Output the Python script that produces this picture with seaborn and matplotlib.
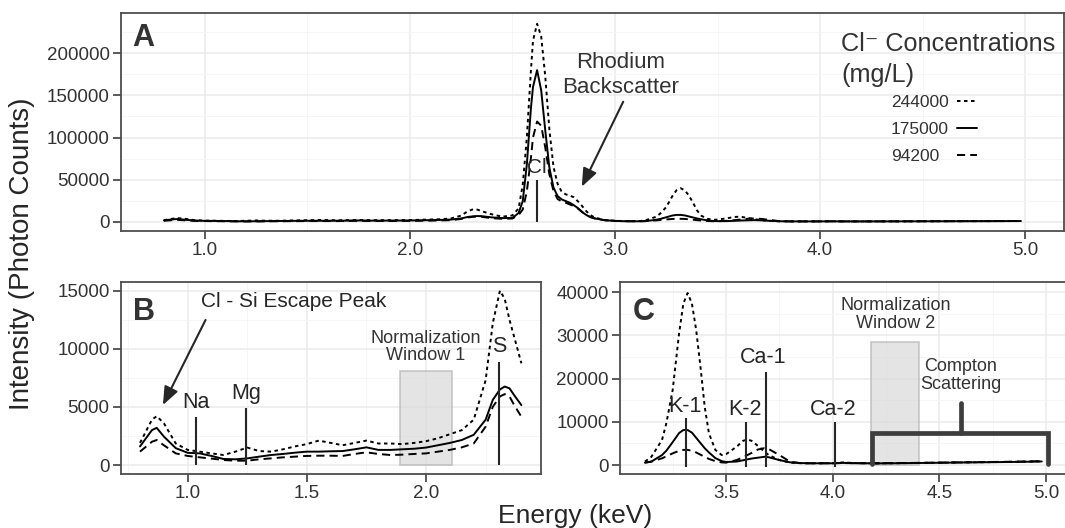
import numpy as np
import pandas as pd
import matplotlib
matplotlib.use("Agg")
import matplotlib.pyplot as plt
from matplotlib.patches import Rectangle
from matplotlib.ticker import FormatStrFormatter
import seaborn as sns

# --- Spectrum readings (energy in keV, intensity in photon counts) ---
energy = [
    0.80, 0.85, 0.87, 0.90, 0.95, 1.00, 1.05, 1.10, 1.15, 1.20, 1.25, 1.30,
    1.35, 1.40, 1.45, 1.50, 1.55, 1.60, 1.65, 1.70, 1.75, 1.80, 1.85, 1.90,
    1.95, 2.00, 2.05, 2.10, 2.15, 2.20, 2.25, 2.28, 2.31, 2.33, 2.35, 2.37,
    2.40,
    2.45, 2.50, 2.53, 2.55, 2.57, 2.59, 2.60, 2.62, 2.64, 2.66, 2.68, 2.70,
    2.72, 2.74, 2.76, 2.78, 2.80, 2.82, 2.84, 2.86, 2.88, 2.90, 2.95, 3.00,
    3.05,
    3.12, 3.15, 3.20, 3.22, 3.25, 3.28, 3.30, 3.32, 3.34, 3.36, 3.38, 3.40,
    3.42, 3.45, 3.48, 3.50, 3.55, 3.58, 3.60, 3.62, 3.65, 3.68, 3.70, 3.75,
    3.80, 3.85, 3.90, 4.00, 4.05, 4.10, 4.20, 4.30, 4.40, 4.50, 4.60, 4.70,
    4.80, 4.90, 4.98,
]

counts_244000 = [
    1900, 3900, 4200, 3600, 1850, 1300, 1150, 1000, 860, 1150, 1500, 1200,
    1150, 1350, 1600, 1800, 2100, 1900, 1700, 1900, 2100, 1850, 1850, 1800,
    1900, 2050, 2300, 2650, 3000, 3900, 7300, 12200, 15000, 14300, 12500, 11000,
    8750,
    6000, 7500, 16000, 44000, 100000, 180000, 215000, 235000, 220000, 172000, 109000, 65000,
    45000, 35500, 32500, 31000, 29000, 24000, 18500, 12500, 8000, 5000, 2000, 1200,
    700,
    800, 1900, 5800, 9600, 17400, 30500, 37400, 39800, 37400, 31300, 22800, 13500,
    7300, 3500, 2300, 2500, 4250, 5600, 5900, 5600, 4400, 3100, 2300, 1150,
    550, 420, 400, 420, 600, 450, 380, 420, 480, 540, 600, 650,
    700, 780, 850,
]

counts_175000 = [
    1600, 3000, 3200, 2450, 1450, 1050, 1000, 780, 520, 490, 570, 720,
    860, 950, 1060, 1150, 1150, 1180, 1200, 1350, 1520, 1300, 1300, 1350,
    1400, 1500, 1700, 1900, 2150, 2600, 3900, 5600, 6500, 6750, 6600, 6000,
    5150,
    4300, 4500, 10500, 24500, 68000, 135000, 160000, 180000, 156000, 108000, 64000, 40500,
    30500, 26500, 24500, 22500, 19500, 16000, 11500, 8000, 5500, 4000, 1800, 1000,
    600,
    550, 800, 2300, 3300, 5300, 7400, 8100, 8100, 7500, 6300, 5100, 3900,
    2900, 1600, 900, 700, 800, 1100, 1300, 1500, 1700, 1900, 1800, 1150,
    620, 450, 400, 400, 500, 420, 380, 420, 470, 520, 580, 630,
    680, 750, 820,
]

counts_94200 = [
    1150, 2000, 2150, 1700, 1000, 780, 660, 550, 430, 370, 370, 490,
    570, 660, 720, 780, 800, 800, 780, 950, 1090, 950, 860, 890,
    950, 1000, 1150, 1300, 1520, 1850, 3300, 5000, 5900, 6100, 5900, 5150,
    4150,
    3500, 3800, 8000, 14500, 36000, 76000, 100000, 119000, 114000, 88000, 56000, 36500,
    27000, 24000, 22500, 20500, 18500, 15500, 11500, 8000, 5500, 4000, 1800, 1000,
    600,
    550, 780, 1550, 2000, 2700, 3300, 3500, 3500, 3300, 2900, 2400, 1900,
    1400, 900, 600, 550, 1150, 1800, 2300, 2800, 3600, 3900, 3700, 2300,
    780, 420, 400, 400, 450, 420, 400, 450, 500, 560, 620, 680,
    740, 820, 900,
]

conc_levels = ["244000", "175000", "94200"]

# --- Annotation positions ---
elements_b = [("Na", 1.035, 4150, 5360), ("Mg", 1.245, 4880, 6170), ("S", 2.308, 8840, 10180)]
elements_c = [("K-1", 3.3125, 3.309, 10800, 13500), ("K-2", 3.594, 3.591, 9900, 12740),
              ("Ca-1", 3.688, 3.675, 21600, 24950), ("Ca-2", 4.01, 4.0, 9900, 12900)]

# --- Style ---
sns.set_theme(style="ticks")
plt.rcParams["font.family"] = ["Liberation Sans", "DejaVu Sans"]
TXT = "#262626"
AX = "#4d4d4d"

df = pd.DataFrame({
    "energy": energy * 3,
    "counts": counts_244000 + counts_175000 + counts_94200,
    "conc": [c for c in conc_levels for _ in energy],
})
dash_map = {"244000": (1.8, 1.8), "175000": "", "94200": (4.2, 2.6)}

fig = plt.figure(figsize=(10.65, 5.28), dpi=100)
W, H = 1065, 528
def px_axes(left, top, right, bottom):
    return fig.add_axes([left / W, 1 - bottom / H, (right - left) / W, (bottom - top) / H])

ax_a = px_axes(120.7, 12.7, 1064, 231)
ax_b = px_axes(120.7, 282.3, 540.7, 474.3)
ax_c = px_axes(620, 282.3, 1066.3, 474.3)

panels = [
    (ax_a, df, (0.589, 5.19), (-11000, 248200), [1, 2, 3, 4, 5], np.arange(1.5, 5, 1),
     np.arange(0, 200001, 50000), np.arange(25000, 240000, 50000)),
    (ax_b, df[df.energy <= 2.40], (0.719, 2.481), (-800, 15720), [1.0, 1.5, 2.0], [0.75, 1.25, 1.75, 2.25],
     np.arange(0, 15001, 5000), np.arange(2500, 15000, 5000)),
    (ax_c, df[df.energy >= 3.12], (3.003, 5.095), (-2150, 42300), [3.5, 4.0, 4.5, 5.0], [3.25, 3.75, 4.25, 4.75],
     np.arange(0, 40001, 10000), np.arange(5000, 40000, 10000)),
]

for ax, sub, xlim, ylim, xmaj, xmin, ymaj, ymin in panels:
    sns.lineplot(data=sub, x="energy", y="counts", style="conc", style_order=conc_levels,
                 dashes=dash_map, color="black", lw=1.4, estimator=None,
                 legend=(ax is ax_a), ax=ax, zorder=3)
    ax.set_xlim(*xlim)
    ax.set_ylim(*ylim)
    ax.set_xticks(xmaj)
    ax.set_xticks(xmin, minor=True)
    ax.set_yticks(ymaj)
    ax.set_yticks(ymin, minor=True)
    ax.xaxis.set_major_formatter(FormatStrFormatter("%.1f"))
    ax.grid(which="major", color="#ebebeb", lw=1.1)
    ax.grid(which="minor", color="#f5f5f5", lw=0.6)
    ax.set_axisbelow(True)
    ax.set_xlabel("")
    ax.set_ylabel("")
    for s in ax.spines.values():
        s.set_visible(True)
        s.set_color(AX)
        s.set_linewidth(1.3)
    ax.tick_params(which="major", length=6, width=1.3, color=AX, labelsize=13.5,
                   labelcolor="#333333", pad=2)
    ax.tick_params(which="minor", length=0)

# --- Panel A ---
ax_a.text(0.012, 0.886, "A", transform=ax_a.transAxes, fontsize=22, fontweight="bold",
          color="#333333", ha="left", va="center")
ax_a.vlines(2.618, 0, 49500, color=TXT, lw=1.5, zorder=4)
ax_a.text(2.618, 64400, "Cl", ha="center", va="center", fontsize=15, color=TXT)
ax_a.text(3.028, 174200, "Rhodium\nBackscatter", ha="center", va="center", fontsize=16,
          color="#333333", linespacing=1.2)
ax_a.annotate("", xy=(2.838, 41570), xytext=(3.04, 142500),
              arrowprops=dict(arrowstyle="-|>,head_length=0.55,head_width=0.22",
                              color=TXT, lw=1.5, mutation_scale=20, shrinkA=0, shrinkB=0))

# legend: labels left, keys right, labels left-aligned as in the original
leg = ax_a.get_legend()
handles = leg.legend_handles
labels = [t.get_text() for t in leg.get_texts()]
new_leg = ax_a.legend(handles, labels, loc="upper left", bbox_to_anchor=(891 / W, 1 - 95 / H),
                      bbox_transform=fig.transFigure, frameon=False, markerfirst=False,
                      fontsize=12.5, handlelength=1.15, handletextpad=0.45, labelspacing=0.69,
                      borderpad=0, borderaxespad=0, labelcolor="#333333")
fig.canvas.draw()
renderer = fig.canvas.get_renderer()
column = new_leg._legend_handle_box.get_children()[0]
items = column.get_children()
widths = [it.get_children()[0].get_window_extent(renderer).width for it in items]
for it, w in zip(items, widths):
    it.sep += (max(widths) - w) * 72 / fig.dpi
column.align = "left"

ax_a.text(0.7636, 0.8246, "Cl\u207b Concentrations", transform=ax_a.transAxes,
          fontsize=18.2, color="#333333", ha="left", va="baseline")
ax_a.text(0.7636, 0.6826, "(mg/L)", transform=ax_a.transAxes,
          fontsize=18.2, color="#333333", ha="left", va="baseline")

# --- Panel B ---
ax_b.text(0.0283, 0.847, "B", transform=ax_b.transAxes, fontsize=22, fontweight="bold",
          color="#333333", ha="left", va="center")
ax_b.add_patch(Rectangle((1.89, 0), 0.22, 8100, facecolor="#d9d9d9", alpha=0.7,
                         edgecolor="#b3b3b3", lw=1.2, zorder=2))
ax_b.text(2.0, 10160, "Normalization\nWindow 1", ha="center", va="center", fontsize=13,
          color="#333333", linespacing=1.05)
for name, x, top, ty in elements_b:
    ax_b.vlines(x, 0, top, color=TXT, lw=1.5, zorder=4)
    ax_b.text(x, ty, name, ha="center", va="center", fontsize=15.5, color=TXT)
ax_b.text(1.446, 14054, "Cl - Si Escape Peak", ha="center", va="center", fontsize=15,
          color=TXT)
ax_b.annotate("", xy=(0.896, 5160), xytext=(1.075, 12480),
              arrowprops=dict(arrowstyle="-|>,head_length=0.55,head_width=0.22",
                              color=TXT, lw=1.5, mutation_scale=20, shrinkA=0, shrinkB=0))

# --- Panel C ---
ax_c.text(0.0278, 0.843, "C", transform=ax_c.transAxes, fontsize=22, fontweight="bold",
          color="#333333", ha="left", va="center")
ax_c.add_patch(Rectangle((4.18, 0), 0.225, 28400, facecolor="#d9d9d9", alpha=0.7,
                         edgecolor="#b3b3b3", lw=1.2, zorder=2))
ax_c.text(4.295, 34860, "Normalization\nWindow 2", ha="center", va="center", fontsize=13,
          color="#333333", linespacing=1.05)
for name, x, tx, top, ty in elements_c:
    ax_c.vlines(x, -400, top, color=TXT, lw=1.5, zorder=4)
    ax_c.text(tx, ty, name, ha="center", va="center", fontsize=15.5, color=TXT)
ax_c.plot([4.185, 4.185, 5.01, 5.01], [300, 7300, 7300, 300], color="#3d3d3d", lw=3.4,
          solid_joinstyle="miter", zorder=4)
ax_c.plot([4.6, 4.6], [7300, 14400], color="#3d3d3d", lw=3.4, zorder=4)
ax_c.text(4.6, 20730, "Compton\nScattering", ha="center", va="center", fontsize=13,
          color="#333333", linespacing=1.05)

# --- Shared axis titles ---
fig.text(22 / W, 1 - 254 / H, "Intensity (Photon Counts)", rotation=90, fontsize=20,
         ha="center", va="center", color="#262626")
fig.text(575 / W, 1 - 516 / H, "Energy (keV)", fontsize=19, ha="center", va="center",
         color="#262626")

fig.savefig("out.png", dpi=100)
